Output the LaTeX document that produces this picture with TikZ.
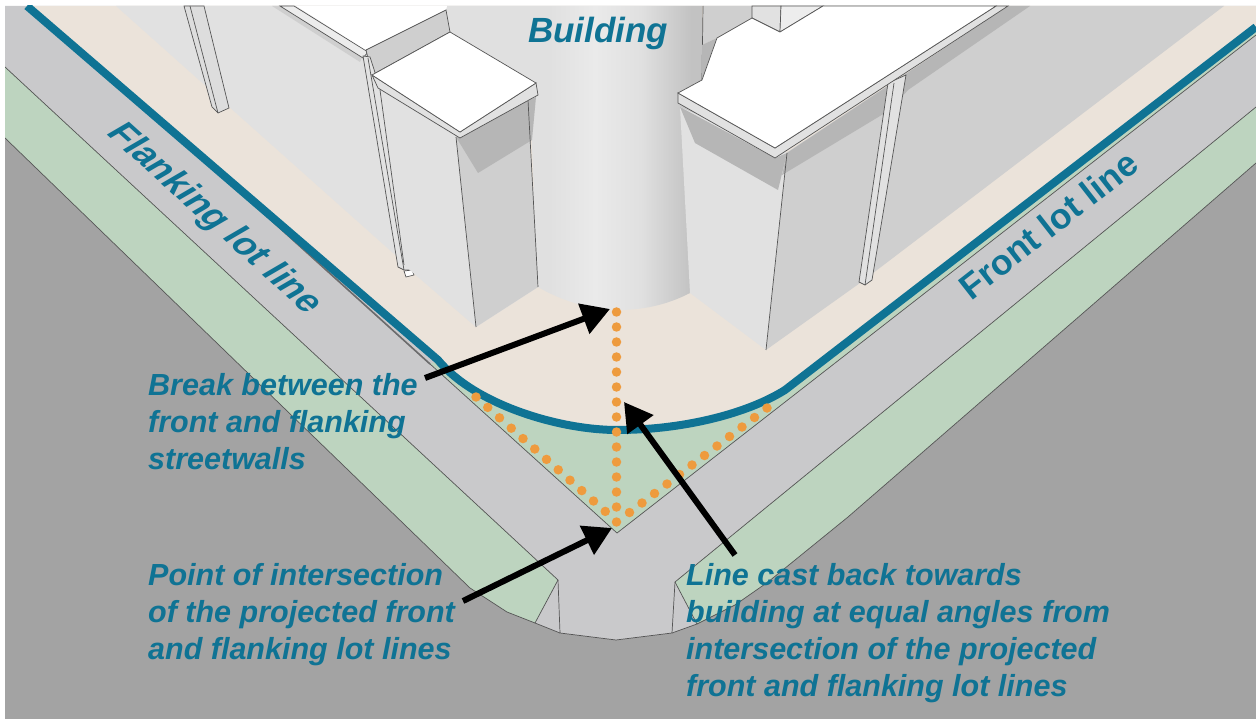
\documentclass[tikz,border=0pt]{standalone}
\usepackage{fontspec}
\setmainfont{Liberation Sans}
\newfontfamily\flankfont{Liberation Sans}[FakeSlant=0.32,BoldFeatures={FakeSlant=0.32}]
\usetikzlibrary{arrows.meta}
\definecolor{road}{HTML}{A3A3A3}
\definecolor{walk}{HTML}{C9C9CB}
\definecolor{grass}{HTML}{BDD4BF}
\definecolor{plaza}{HTML}{EBE3DA}
\definecolor{lot}{HTML}{0F7394}
\definecolor{dots}{HTML}{EE9B3E}
\definecolor{wlight}{HTML}{E1E1E1}
\definecolor{wmid}{HTML}{CFCFCF}
\definecolor{wshade}{HTML}{B6B6B6}
\definecolor{edge}{HTML}{555555}
\definecolor{cylA}{HTML}{E0E0E0}
\definecolor{cylB}{HTML}{EAEAEA}
\definecolor{cylC}{HTML}{E0E0E0}
\definecolor{cylD}{HTML}{C2C2C2}
\pgfdeclarehorizontalshading{cylshade}{100bp}{color(0bp)=(cylA);color(25bp)=(cylA);color(45bp)=(cylA);color(54bp)=(cylB);color(63bp)=(cylC);color(73bp)=(cylD);color(100bp)=(cylD)}
\tikzset{
  thin edge/.style={draw=edge,line width=0.7pt},
  lotline/.style={draw=lot,line width=8pt,line join=round},
  orange dot/.style={circle,fill=dots,minimum size=9.5pt,inner sep=0pt},
  pointer/.style={draw=black,line width=6pt,-{Triangle[length=28pt,width=31pt]},shorten >=0pt},
  label text/.style={text=lot,font=\fontsize{30.5}{37}\selectfont\bfseries\itshape,align=left,anchor=north west,inner sep=0pt},
}
\begin{document}
\begin{tikzpicture}[x=1pt,y=-1pt]
\useasboundingbox (0,0) rectangle (1256,719);
\fill[white] (0,0) rectangle (1256,719);
\begin{scope}
\clip (5,6) rectangle (1256,719);
\fill[road] (5,6) rectangle (1256,719);
% sidewalk
\fill[walk] (5,6) -- (1256,6) -- (1256,107) -- (675,582) -- (697,624) -- (672,633) -- (616,640) -- (560,633) -- (535,623) -- (558,580) -- (5,67) -- cycle;
% street greens
\path[fill=grass,thin edge] (5,67) -- (558,580) -- (535,623) -- (507,612) -- (470,588) -- (5,138);
\path[fill=grass,thin edge] (1256,107) -- (675,582) -- (697,624) -- (735,605) -- (768,582) -- (848,517) -- (1256,163);
\path[thin edge] (558,580) -- (560,633) -- (616,640) -- (672,633) -- (675,582);
\path[thin edge] (535,623) -- (560,633);
\path[thin edge] (672,633) -- (697,624);
% corner wedge
\fill[grass] (430,364) -- (617,533) -- (1256,35) -- (1256,20) -- cycle;
\path[thin edge] (200,156) -- (617,533) -- (1256,35);
\draw[edge!80!walk,line width=1.6pt] (230,183) -- (430,364);
% plaza
\fill[plaza] (27,6) -- (438,360) .. controls (475,405) and (560,430) .. (617,430) .. controls (680,430) and (745,415) .. (785,390) -- (1256,27) -- (1256,6) -- cycle;
% walls
\fill[wlight] (116,6) -- (476,327) -- (538,287) -- (545,200) -- (447,100) -- (447,6) -- cycle;
\fill[wmid] (1224,6) -- (860,283) -- (766,350) -- (786,153) -- (1008,6) -- cycle;
% cylinder
\shade[shading=cylshade] (447,6) -- (702,6) -- (702,200) -- (690,293) .. controls (665,306) and (640,310) .. (618,310) .. controls (590,310) and (560,300) .. (538,287) -- (530,100) -- (447,30) -- cycle;
% far pipes on left wall
\path[fill=wmid!70!white,thin edge] (184,6) -- (212,107) -- (218,113) -- (229,108) -- (204,6) -- cycle;
\path[thin edge] (190,6) -- (218,113);
% large left roof
\fill[wmid] (272,6) -- (360,62) -- (363,55) -- (288,6) -- cycle;
\path[fill=wmid!40!white,thin edge] (280,6) -- (363,58) -- (368,52) -- (294,6) -- cycle;
\fill[white] (296,6) -- (366,50) -- (446,10) -- (447,6) -- cycle;
\path[fill=wmid,thin edge] (366,50) -- (446,10) -- (450,32) -- (372,75) -- cycle;
% left pipe
\path[fill=wmid!60!white,thin edge] (363,56) -- (398,267) -- (404,270) -- (412,270) -- (380,88) -- (370,57) -- cycle;
\path[thin edge] (368,58) -- (404,270);
\path[fill=white,thin edge] (404,271) -- (412,270) -- (414,275) -- (406,277) -- cycle;
% left tower
\fill[wlight] (380,90) -- (456,137) -- (476,327) -- (404,265) -- cycle;
\fill[wmid] (456,137) -- (528,100) -- (538,287) -- (476,327) -- cycle;
\fill[wshade] (456,137) -- (536,97) -- (532,140) -- (478,173) -- cycle;
\path[thin edge] (380,90) -- (404,265);
\path[thin edge] (456,137) -- (476,327);
\path[thin edge] (528,100) -- (538,287);
\path[fill=wlight,thin edge] (372,75) -- (378,88) -- (460,138) -- (538,95) -- (536,83) -- (460,132) -- cycle;
\path[fill=white,thin edge] (450,32) -- (536,83) -- (460,132) -- (372,75) -- cycle;
% right tower and block behind
\fill[wmid] (703,6) -- (752,6) -- (752,18) -- (717,38) -- (702,45) -- cycle;
\draw[edge,line width=0.7pt] (703,6) -- (702,80);
\fill[wshade] (702,45) -- (717,38) -- (702,80) -- cycle;
\path[fill=wlight,thin edge] (752,6) -- (752,18) -- (780,32) -- (781,6) -- cycle;
\path[fill=wlight!60!white,thin edge] (781,6) -- (780,32) -- (823,6) -- cycle;
\fill[wlight] (680,107) -- (690,293) -- (766,350) -- (787,153) -- cycle;
\fill[wshade] (680,107) -- (775,158) -- (787,153) -- (778,190) -- (695,143) -- cycle;
\fill[wshade] (787,153) -- (782,175) -- (890,110) -- (908,90) -- (1030,6) -- (1008,6) -- cycle;
\path[thin edge] (787,153) -- (766,350);
% right pipe
\path[fill=wlight,thin edge] (888,83) -- (859,282) -- (865,285) -- (872,280) -- (906,75) -- cycle;
\path[thin edge] (894,83) -- (865,285);
% right roof
\path[fill=wlight,thin edge] (678,93) -- (678,103) -- (775,158) -- (1008,6) -- (996,6) -- (775,148) -- cycle;
\path[fill=white,thin edge] (678,93) -- (702,80) -- (717,38) -- (752,18) -- (780,32) -- (823,6) -- (996,6) -- (775,148) -- cycle;
% lot line
\path[lotline] (27,6) -- (438,360) .. controls (475,405) and (560,430) .. (617,430) .. controls (680,430) and (745,415) .. (785,390) -- (1256,27);
\end{scope}
% orange dots
\foreach \i in {0,...,14} \node[orange dot] (v\i) at (616.5,312+15*\i) {};
\foreach \i in {0,...,11} \node[orange dot] (l\i) at (476+11.75*\i,397+10.4*\i) {};
\foreach \i in {0,...,11} \node[orange dot] (r\i) at (767-12.5*\i,408+9.5*\i) {};
% labels
\node[text=lot,font=\fontsize{35}{40}\selectfont\bfseries\itshape,inner sep=0pt] (building) at (598,33) {Building};
\node[text=lot,font=\fontsize{35.5}{40}\flankfont\bfseries,inner sep=0pt,anchor=base,rotate=-42] (flank) at (206,224) {Flanking lot line};
\node[text=lot,font=\fontsize{35.5}{40}\selectfont\bfseries,inner sep=0pt,anchor=base,rotate=38] (front) at (1056,235) {Front lot line};
\node[label text] (tbreak) at (148,373) {Break between the\\front and flanking\\streetwalls};
\node[label text] (tpoint) at (148,563) {Point of intersection\\of the projected front\\and flanking lot lines};
\node[label text] (tline) at (686,563) {Line cast back towards\\building at equal angles from\\intersection of the projected\\front and flanking lot lines};
% pointers
\coordinate (a1s) at (425,378);
\coordinate (a1e) at (610,309);
\coordinate (a2s) at (735,555);
\coordinate (a2e) at (624,402);
\coordinate (a3s) at (463,601);
\coordinate (a3e) at (612,528);
\draw[pointer] (a1s) -- (a1e);
\draw[pointer] (a2s) -- (a2e);
\draw[pointer] (a3s) -- (a3e);
\end{tikzpicture}
\end{document}
